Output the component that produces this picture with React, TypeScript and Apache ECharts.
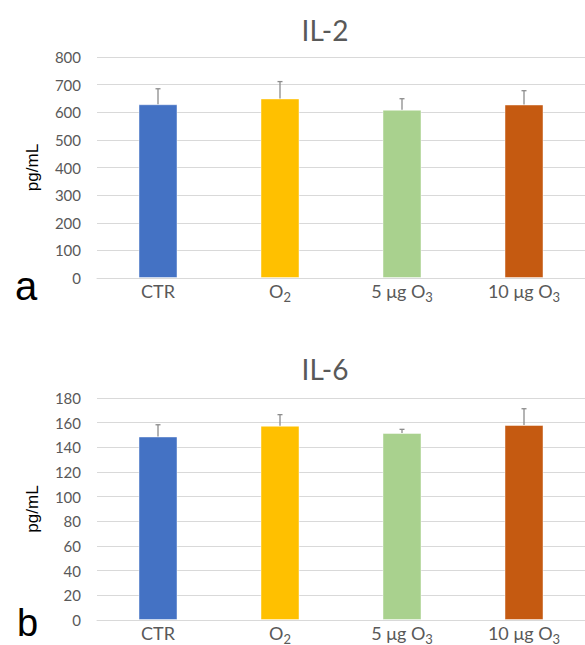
import React, { useEffect, useRef } from 'react';
import * as echarts from 'echarts';

const categories = ['CTR', 'O2', '5 μg O3', '10 μg O3'];
const il2Values = [629, 650, 609, 628];
const il2Errors = [56, 61, 40, 50];
const il6Values = [148.8, 157.5, 151.6, 158.1];
const il6Errors = [9.5, 9, 3, 13.2];
const barColors = ['#4472C4', '#FFC000', '#A9D18E', '#C55A11'];
const il2Axis = { min: 0, max: 800, interval: 100 };
const il6Axis = { min: 0, max: 180, interval: 20 };
const titles = ['IL-2', 'IL-6'];
const panelLetters = ['a', 'b'];

const FONT = 'Lato';
const GRAY = '#595959';

function labelFormatter(v: string) {
  const m = v.match(/^(.*O)(\d)$/);
  if (m) return `{n|${m[1]}}{s|${m[2]}}`;
  return `{n|${v}}`;
}

function makeXAxis(gridIndex: number) {
  return {
    type: 'category',
    gridIndex,
    data: categories,
    axisTick: { show: false },
    axisLine: { lineStyle: { color: '#D9D9D9', width: 1 } },
    axisLabel: {
      margin: 1,
      formatter: labelFormatter,
      rich: {
        n: { fontSize: 18, lineHeight: 24, color: GRAY, fontFamily: FONT },
        s: { fontSize: 13, lineHeight: 12, color: GRAY, fontFamily: FONT, verticalAlign: 'bottom' },
      },
    },
  };
}

function makeYAxis(gridIndex: number, ax: { min: number; max: number; interval: number }) {
  return {
    type: 'value',
    gridIndex,
    min: ax.min,
    max: ax.max,
    interval: ax.interval,
    name: 'pg/mL',
    nameLocation: 'middle',
    nameGap: 56,
    nameRotate: 90,
    nameTextStyle: { color: '#000', fontSize: 17, fontFamily: 'Liberation Sans' },
    axisLine: { show: false },
    axisTick: { show: false },
    axisLabel: { margin: 16, color: GRAY, fontSize: 15, fontFamily: FONT },
    splitLine: { lineStyle: { color: '#D9D9D9', width: 1 } },
  };
}

function errorRender(params: any, api: any) {
  const x = api.value(0);
  const v = api.value(1);
  const e = api.value(2);
  const base = api.coord([x, v]);
  const top = api.coord([x, v + e]);
  const style = { stroke: '#8C8C8C', lineWidth: 1.3 };
  return {
    type: 'group',
    children: [
      { type: 'line', shape: { x1: base[0], y1: base[1], x2: top[0], y2: top[1] }, style },
      { type: 'line', shape: { x1: top[0] - 2.5, y1: top[1], x2: top[0] + 2.5, y2: top[1] }, style },
    ],
  };
}

function barSeries(idx: number, values: number[]) {
  return {
    type: 'bar',
    xAxisIndex: idx,
    yAxisIndex: idx,
    barWidth: 39,
    data: values.map((v, i) => ({
      value: v,
      itemStyle: { color: barColors[i], borderColor: 'rgba(255,255,255,0.45)', borderWidth: 1 },
    })),
  };
}

function errSeries(idx: number, values: number[], errs: number[]) {
  return {
    type: 'custom',
    xAxisIndex: idx,
    yAxisIndex: idx,
    z: 5,
    renderItem: errorRender,
    encode: { x: 0, y: 1 },
    data: values.map((v, i) => [i, v, errs[i]]),
  };
}

export default function App() {
  const ref = useRef<HTMLDivElement>(null);
  useEffect(() => {
    document.body.style.margin = '0';
    if (!ref.current) return;
    const chart = echarts.init(ref.current, undefined, { renderer: 'svg' });
    chart.setOption({
      animation: false,
      backgroundColor: '#fff',
      grid: [
        { left: 97, top: 57, width: 497, height: 221 },
        { left: 97, top: 398, width: 497, height: 222 },
      ],
      xAxis: [makeXAxis(0), makeXAxis(1)],
      yAxis: [makeYAxis(0, il2Axis), makeYAxis(1, il6Axis)],
      series: [
        barSeries(0, il2Values),
        errSeries(0, il2Values, il2Errors),
        barSeries(1, il6Values),
        errSeries(1, il6Values, il6Errors),
      ],
      graphic: [
        { type: 'text', style: { text: titles[0], x: 325, y: 30, align: 'center', verticalAlign: 'middle', fontSize: 28, fill: GRAY, fontFamily: FONT } },
        { type: 'text', style: { text: titles[1], x: 325, y: 369, align: 'center', verticalAlign: 'middle', fontSize: 28, fill: GRAY, fontFamily: FONT } },
        { type: 'text', style: { text: panelLetters[0], x: 15, y: 286, align: 'left', verticalAlign: 'middle', lineHeight: 34, fontSize: 40, fill: '#000', fontFamily: 'Liberation Sans' } },
        { type: 'text', style: { text: panelLetters[1], x: 17, y: 623, align: 'left', verticalAlign: 'middle', lineHeight: 32, fontSize: 38, fill: '#000', fontFamily: 'Liberation Sans' } },
      ],
    });
    return () => chart.dispose();
  }, []);
  return <div ref={ref} style={{ width: 585, height: 645 }} />;
}
